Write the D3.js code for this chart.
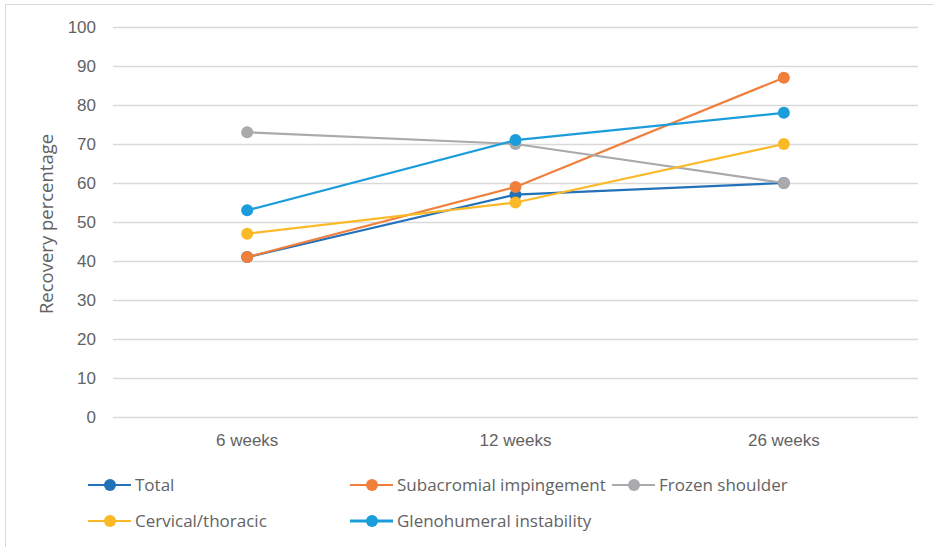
<!DOCTYPE html>
<html>
<head>
<meta charset="utf-8">
<script src="https://cdn.jsdelivr.net/npm/d3@7"></script>
<style>
  html, body { margin: 0; padding: 0; background: #fff; }
  svg { display: block; font-family: "Open Sans", "Noto Sans", sans-serif; }
</style>
</head>
<body>
<svg id="chart" width="934" height="547"></svg>
<script>
// Time points and recovery percentages per diagnosis group
const categories = ["6 weeks", "12 weeks", "26 weeks"];
const seriesNames = ["Total", "Subacromial impingement", "Frozen shoulder", "Cervical/thoracic", "Glenohumeral instability"];
const total = [41, 57, 60];
const subacromial = [41, 59, 87];
const frozen = [73, 70, 60];
const cervical = [47, 55, 70];
const glenohumeral = [53, 71, 78];
const yTicks = [0, 10, 20, 30, 40, 50, 60, 70, 80, 90, 100];
const colors = ["#2271B9", "#F07F3C", "#AAAAAD", "#FBB927", "#1A9DDA"];

const seriesValues = [total, subacromial, frozen, cervical, glenohumeral];
const series = seriesNames.map((name, i) => ({ name, values: seriesValues[i], color: colors[i] }));

const svg = d3.select("#chart");
const W = 934, H = 547;
const plot = { left: 113, right: 918, top: 27, bottom: 417 };
const fontSize = "17px";

// chart frame
svg.append("path")
  .attr("d", `M5.5,${H} L5.5,4.5 L${W},4.5`)
  .attr("fill", "none")
  .attr("stroke", "#D9D9D9")
  .attr("stroke-width", 1);

const x = d3.scaleBand().domain(categories).range([plot.left, plot.right]);
const y = d3.scaleLinear().domain([0, 100]).range([plot.bottom, plot.top]);
const cx = c => x(c) + x.bandwidth() / 2;

// horizontal gridlines and y tick labels
const yAxis = d3.axisLeft(y).tickValues(yTicks).tickSize(-(plot.right - plot.left)).tickPadding(17);
const gy = svg.append("g").attr("transform", `translate(${plot.left},0)`).call(yAxis);
gy.select(".domain").remove();
gy.selectAll(".tick line").attr("stroke", "#D9D9D9").attr("stroke-width", 1.3);
gy.selectAll(".tick text").attr("fill", "#636363").style("font-size", fontSize);

// x tick labels
const xAxis = d3.axisBottom(x).tickSize(0).tickPadding(17);
const gx = svg.append("g").attr("transform", `translate(0,${plot.bottom})`).call(xAxis);
gx.select(".domain").remove();
gx.selectAll(".tick text").attr("fill", "#636363").style("font-size", fontSize);

// y axis title
svg.append("text")
  .attr("transform", `translate(53,224) rotate(-90)`)
  .attr("text-anchor", "middle")
  .attr("fill", "#636363")
  .style("font-size", "18.5px")
  .text("Recovery percentage");

// lines and markers
const line = d3.line().x((d, i) => cx(categories[i])).y(d => y(d));
const gs = svg.append("g").selectAll("g").data(series).join("g");
gs.append("path")
  .attr("d", d => line(d.values))
  .attr("fill", "none")
  .attr("stroke", d => d.color)
  .attr("stroke-width", 2.2)
  .attr("stroke-linejoin", "round");
gs.selectAll("circle").data(d => d.values.map((v, i) => ({ v, i, color: d.color }))).join("circle")
  .attr("cx", d => cx(categories[d.i]))
  .attr("cy", d => y(d.v))
  .attr("r", 6)
  .attr("fill", d => d.color);

// legend
const legendPos = [[88, 485], [350, 485], [612, 485], [88, 521], [350, 521]];
const lg = svg.append("g").selectAll("g").data(series).join("g")
  .attr("transform", (d, i) => `translate(${legendPos[i][0]},${legendPos[i][1]})`);
lg.append("line")
  .attr("x1", 0).attr("x2", 43).attr("y1", 0).attr("y2", 0)
  .attr("stroke", d => d.color)
  .attr("stroke-width", (d, i) => i === 4 ? 3.2 : 2.2);
lg.append("circle").attr("cx", 22).attr("cy", 0).attr("r", 6).attr("fill", d => d.color);
lg.append("text")
  .attr("x", 47).attr("y", 0).attr("dy", "0.35em")
  .attr("fill", "#636363")
  .style("font-size", fontSize)
  .text(d => d.name);
</script>
</body>
</html>
